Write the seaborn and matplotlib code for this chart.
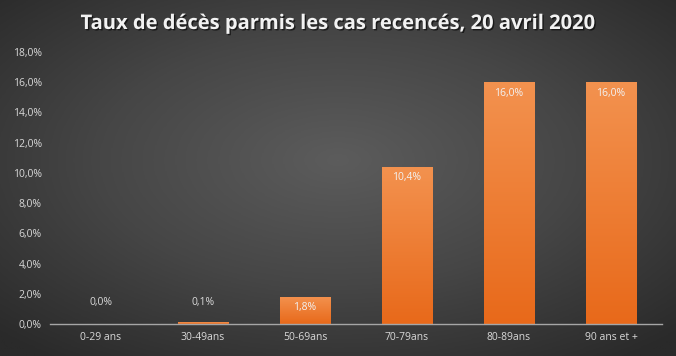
import numpy as np
import pandas as pd
import matplotlib
matplotlib.use("Agg")
import matplotlib.pyplot as plt
import matplotlib.patheffects as pe
from matplotlib.colors import LinearSegmentedColormap
import seaborn as sns

# données
categories = ["0-29 ans", "30-49ans", "50-69ans", "70-79ans", "80-89ans", "90 ans et +"]
taux = [0.0, 0.1, 1.8, 10.4, 16.0, 16.0]
yticks = [0, 2, 4, 6, 8, 10, 12, 14, 16, 18]

df = pd.DataFrame({"age": categories, "taux": taux})

sns.set_theme(style="dark")
plt.rcParams["font.family"] = ["Open Sans", "DejaVu Sans"]

fig = plt.figure(figsize=(6.76, 3.56), dpi=100)

# fond en dégradé radial
bg = fig.add_axes([0, 0, 1, 1], zorder=-10)
yy, xx = np.mgrid[-1:1:300j, -1:1:600j]
r = np.sqrt((xx * 0.85) ** 2 + ((yy + 0.1) * 0.85) ** 2)
bg_cmap = LinearSegmentedColormap.from_list("bg", ["#5c5c5c", "#464646", "#2a2a2a"])
bg.imshow(r, cmap=bg_cmap, vmin=0, vmax=1.2, aspect="auto", extent=[0, 1, 0, 1])
bg.axis("off")

ax = fig.add_axes([50 / 676, 32 / 356, 612 / 676, 272 / 356])
ax.patch.set_alpha(0)
sns.barplot(data=df, x="age", y="taux", color="#ED7D31", width=0.5, ax=ax,
            saturation=1, linewidth=0, edgecolor="none")

# dégradé orange sur les barres
bar_cmap = LinearSegmentedColormap.from_list("bar", ["#E8691A", "#F3924F"])
grad = np.linspace(0, 1, 256).reshape(-1, 1)
for p in ax.patches:
    x0, w, h = p.get_x(), p.get_width(), p.get_height()
    if h <= 0:
        continue
    im = ax.imshow(grad, cmap=bar_cmap, aspect="auto", origin="lower",
                   extent=[x0, x0 + w, 0, h], zorder=p.get_zorder() + 0.1)
    im.set_clip_path(p)

ax.set_xlim(-0.5, len(categories) - 0.5)
ax.set_ylim(0, 18)
ax.set_yticks(yticks)
ax.set_yticklabels([f"{v:.1f}%".replace(".", ",") for v in yticks])
ax.tick_params(axis="both", colors="#D9D9D9", labelsize=7.5, length=0, pad=6)
ax.set_xlabel("")
ax.set_ylabel("")
ax.grid(False)
for s in ["top", "right", "left"]:
    ax.spines[s].set_visible(False)
ax.spines["bottom"].set_color("#A6A6A6")
ax.spines["bottom"].set_linewidth(1)

# étiquettes de valeurs
for i, v in enumerate(taux):
    lab = f"{v:.1f}%".replace(".", ",")
    if v > 1:
        ax.text(i, v - 0.35, lab, ha="center", va="top", color="#F2F2F2", fontsize=7.5, zorder=5)
    else:
        ax.text(i, 1.05, lab, ha="center", va="bottom", color="#D9D9D9", fontsize=7.5, zorder=5)

fig.text(0.5, 1 - 24 / 356, "Taux de décès parmis les cas recencés, 20 avril 2020",
         ha="center", va="center", color="#F2F2F2", fontsize=14.5, fontweight="bold",
         path_effects=[pe.withSimplePatchShadow(offset=(1, -1), shadow_rgbFace="black", alpha=0.6)])

fig.savefig("out.png", dpi=100)
